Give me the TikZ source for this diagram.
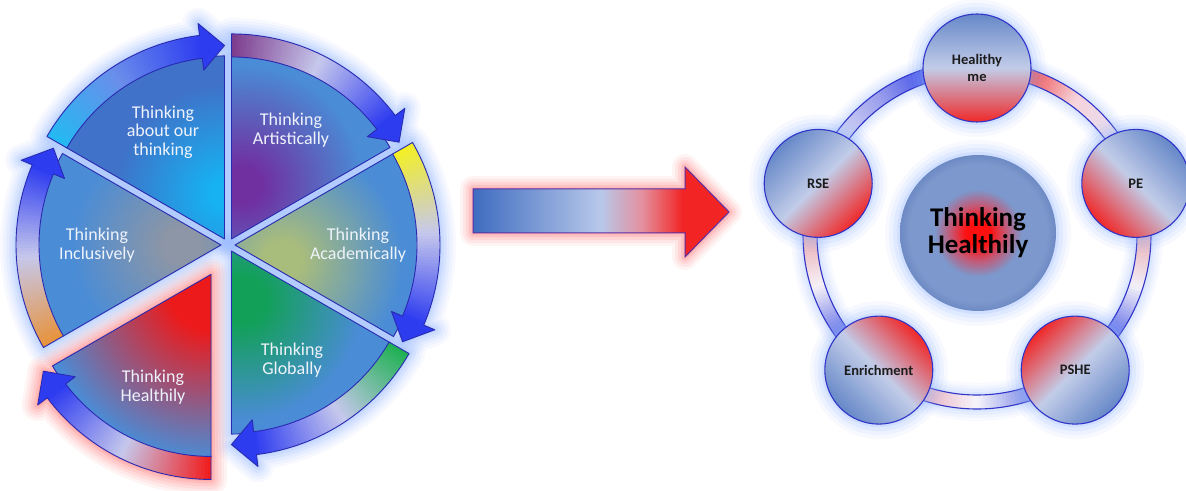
\documentclass[tikz,border=0pt]{standalone}
\usepackage{fontspec}
\setmainfont{Carlito}
\usetikzlibrary{calc}

\definecolor{sectblue}{HTML}{4A8CD6}
\definecolor{aboutblue}{HTML}{3F72C8}
\definecolor{headblue}{HTML}{2E3CF0}
\definecolor{outl}{HTML}{2A2AB0}
\definecolor{glowb}{HTML}{94B8FF}
\definecolor{glowr}{HTML}{FF7070}
\definecolor{txtw}{HTML}{EEF3FB}
\definecolor{txtd}{HTML}{1C1C1C}
\definecolor{accAbout}{HTML}{16B2F2}
\definecolor{accArt}{HTML}{7030A0}
\definecolor{accAcad}{HTML}{A8BC7C}
\definecolor{accGlob}{HTML}{12A058}
\definecolor{accHeal}{HTML}{EC1A1A}
\definecolor{accIncl}{HTML}{8C96A6}
\definecolor{tAbout}{HTML}{22BAF2}
\definecolor{tArt}{HTML}{7C3A8C}
\definecolor{tAcad}{HTML}{F4F020}
\definecolor{tGlob}{HTML}{1CB050}
\definecolor{tHeal}{HTML}{F21A1A}
\definecolor{tIncl}{HTML}{E8923A}
\definecolor{mAbout}{HTML}{6A8EEA}
\definecolor{mLight}{HTML}{C6C8EC}
% middle arrow
\definecolor{maL}{HTML}{3E6CC0}
\definecolor{maM}{HTML}{B8C8EA}
\definecolor{maP}{HTML}{E4909E}
\definecolor{maR}{HTML}{F22424}
\definecolor{maOut}{HTML}{5A30A8}
% right side
\definecolor{cb}{HTML}{6688C8}
\definecolor{cl}{HTML}{C2CCE8}
\definecolor{cr}{HTML}{F02828}
\definecolor{cline}{HTML}{3034C8}
\definecolor{cred}{HTML}{FF1010}
\definecolor{cpur}{HTML}{C25A78}
\definecolor{cmid}{HTML}{7C98CC}
\definecolor{cedge}{HTML}{6E8AC4}
% band colours
\definecolor{bA0}{HTML}{E2DEF4}\definecolor{bA1}{HTML}{F6D4DC}\definecolor{bA2}{HTML}{EC3434}
\definecolor{bB0}{HTML}{3040E8}\definecolor{bB1}{HTML}{9CA0EC}\definecolor{bB2}{HTML}{E0E2F6}
\definecolor{bC0}{HTML}{E89AA2}\definecolor{bC1}{HTML}{F6F2F8}\definecolor{bC2}{HTML}{4656E4}
\definecolor{bD0}{HTML}{E4A2B4}\definecolor{bD1}{HTML}{F6F4FA}\definecolor{bD2}{HTML}{6878E4}
\definecolor{bE0}{HTML}{3C4CE4}\definecolor{bE1}{HTML}{F2F0F8}\definecolor{bE2}{HTML}{E8A0A8}

\pgfdeclareradialshading{shAbout}{\pgfpoint{0bp}{0bp}}{color(0bp)=(accAbout); color(3bp)=(accAbout); color(25bp)=(aboutblue); color(50bp)=(aboutblue)}
\pgfdeclareradialshading{shArt}{\pgfpoint{0bp}{0bp}}{color(0bp)=(accArt); color(4bp)=(accArt); color(25bp)=(sectblue); color(50bp)=(sectblue)}
\pgfdeclareradialshading{shAcad}{\pgfpoint{0bp}{0bp}}{color(0bp)=(accAcad); color(4bp)=(accAcad); color(25bp)=(sectblue); color(50bp)=(sectblue)}
\pgfdeclareradialshading{shGlob}{\pgfpoint{0bp}{0bp}}{color(0bp)=(accGlob); color(5bp)=(accGlob); color(25bp)=(sectblue); color(50bp)=(sectblue)}
\pgfdeclareradialshading{shHeal}{\pgfpoint{0bp}{0bp}}{color(0bp)=(accHeal); color(6bp)=(accHeal); color(25bp)=(sectblue); color(50bp)=(sectblue)}
\pgfdeclareradialshading{shIncl}{\pgfpoint{0bp}{0bp}}{color(0bp)=(accIncl); color(4bp)=(accIncl); color(25bp)=(sectblue); color(50bp)=(sectblue)}
\pgfdeclareradialshading{centsh}{\pgfpoint{0bp}{0bp}}{color(0bp)=(cred); color(4bp)=(cred); color(9bp)=(cpur); color(14bp)=(cmid); color(22bp)=(cmid); color(25bp)=(cedge); color(50bp)=(cedge)}
\pgfdeclarehorizontalshading{midarrow}{100bp}{color(0bp)=(maL); color(25bp)=(maL); color(50bp)=(maM); color(58bp)=(maP); color(66bp)=(maR); color(75bp)=(maR); color(100bp)=(maR)}

\tikzset{
  wheeltxt/.style={text=txtw, align=center, font=\fontsize{18}{18.5}\selectfont, inner sep=0pt},
  smallc/.style={circle, minimum size=108, inner sep=0pt, draw=cline, line width=1.1,
    align=center, font=\bfseries\fontsize{14.5}{16.5}\selectfont, text=txtd,
    top color=cb, bottom color=cr, middle color=cl},
  bigc/.style={circle, minimum size=156, inner sep=0pt, shade, shading=centsh,
    align=center, font=\bfseries\fontsize{27}{27}\selectfont, text=black},
}

\begin{document}
\begin{tikzpicture}[x=1pt,y=1pt]
\useasboundingbox (0,0) rectangle (1186,490);
\fill[white] (0,0) rectangle (1186,490);

\def\ri{182}\def\rp{183}\def\ro{205}\def\rmid{193.5}\def\bi{170}\def\bo{217}\def\hlen{7}
% tail/head/offset/shading/acc angle/acc dist/acc radius/tail col/mid col/glow col/base col
\def\wheeldata{150/90/7/shAbout/90/45/110/tAbout/mAbout/glowb/aboutblue,
  90/30/7/shArt/78/55/120/tArt/mLight/glowb/sectblue,
  30/-30/7/shAcad/-18/50/120/tAcad/mLight/glowb/sectblue,
  -30/-90/7/shGlob/-78/50/120/tGlob/mLight/glowb/sectblue,
  -90/-150/34/shHeal/-95/15/170/tHeal/mLight/glowr/sectblue,
  -150/-210/7/shIncl/180/40/110/tIncl/mLight/glowb/sectblue}

% ---------- pass 1: glows
\foreach \ta/\ha/\dd/\sh/\aca/\acd/\acr/\tc/\mc/\gc/\base in \wheeldata {
  \pgfmathsetmacro{\bis}{(\ta+\ha)/2}
  \pgfmathsetmacro{\tx}{228+\dd*cos(\bis)}
  \pgfmathsetmacro{\ty}{245+\dd*sin(\bis)}
  \pgfmathsetmacro{\hs}{\ha+\hlen}
  \begin{scope}[shift={(\tx,\ty)}]
    \foreach \w/\o in {32/0.07,26/0.09,20/0.11,14/0.14,8/0.18,3/0.22}{
      \draw[\gc, line width=\w, opacity=\o, line join=round]
        (0,0) -- (\ha:\ri) arc[start angle=\ha,end angle=\ta,radius=\ri] -- cycle
        (\ta:\ro) arc[start angle=\ta,end angle=\hs,radius=\ro] -- (\hs:\bo) -- (\ha:\rmid)
        -- (\hs:\bi) -- (\hs:\ri) arc[start angle=\hs,end angle=\ta,radius=\ri] -- cycle;
    }
  \end{scope}
}

% ---------- pass 2: sectors and strips
\foreach \ta/\ha/\dd/\sh/\aca/\acd/\acr/\tc/\mc/\gc/\base in \wheeldata {
  \pgfmathsetmacro{\bis}{(\ta+\ha)/2}
  \pgfmathsetmacro{\tx}{228+\dd*cos(\bis)}
  \pgfmathsetmacro{\ty}{245+\dd*sin(\bis)}
  \pgfmathsetmacro{\hs}{\ha+\hlen}
  \begin{scope}[shift={(\tx,\ty)}]
    \fill[\base] (0,0) -- (\ha:\rp) arc[start angle=\ha,end angle=\ta,radius=\rp] -- cycle;
    \begin{scope}
      \clip (0,0) -- (\ha:\rp) arc[start angle=\ha,end angle=\ta,radius=\rp] -- cycle;
      \shade[shading=\sh] (\aca:\acd) circle[radius=\acr];
    \end{scope}
    \draw[outl, line width=0.9, line join=round] (0,0) -- (\ha:\rp) arc[start angle=\ha,end angle=\ta,radius=\rp] -- cycle;
    % gradient strip
    \foreach \i in {0,...,59} {
      \pgfmathsetmacro{\sa}{\ta+(\hs-\ta)*\i/60}
      \pgfmathsetmacro{\ea}{\ta+(\hs-\ta)*(\i+1.6)/60}
      \pgfmathsetmacro{\tpos}{(\i+0.5)/60}
      \ifdim\tpos pt<0.5pt
        \pgfmathtruncatemacro{\pc}{100-200*\tpos}
        \colorlet{segc}{\tc!\pc!\mc}
      \else
        \pgfmathtruncatemacro{\pc}{200-200*\tpos}
        \colorlet{segc}{\mc!\pc!headblue}
      \fi
      \fill[segc] (\sa:\ri) -- (\sa:\ro) arc[start angle=\sa,end angle=\ea,radius=\ro]
        -- (\ea:\ri) arc[start angle=\ea,end angle=\sa,radius=\ri] -- cycle;
    }
    \fill[headblue] (\hs:\bo) -- (\ha:\rmid) -- (\hs:\bi) -- cycle;
    \draw[outl, line width=0.9, line join=round]
      (\ta:\ro) arc[start angle=\ta,end angle=\hs,radius=\ro] -- (\hs:\bo) -- (\ha:\rmid)
      -- (\hs:\bi) -- (\hs:\ri) arc[start angle=\hs,end angle=\ta,radius=\ri] -- cycle;
  \end{scope}
}

% ---------- wheel texts
\node[wheeltxt] (about) at (163,358) {Thinking\\about our\\thinking};
\node[wheeltxt] (artist) at (291,360) {Thinking\\Artistically};
\node[wheeltxt] (acad) at (358,245) {Thinking\\Academically};
\node[wheeltxt] (glob) at (292,130) {Thinking\\Globally};
\node[wheeltxt] (heal) at (153,103) {Thinking\\Healthily};
\node[wheeltxt] (incl) at (97,245) {Thinking\\Inclusively};

% ---------- middle arrow
\foreach \w/\o in {26/0.07,20/0.1,14/0.14,8/0.18,3/0.22}{
  \draw[glowr, line width=\w, opacity=\o, line join=round] (473,257) -- (685,257) -- (685,233) -- (729,278) -- (685,323) -- (685,301) -- (473,301) -- cycle;
}
\shade[shading=midarrow, draw=maOut, line width=1] (473,257) -- (685,257) -- (685,233) -- (729,278) -- (685,323) -- (685,301) -- (473,301) -- cycle;

% ---------- right: ring band
\coordinate (P0) at (977,255);
\foreach \w/\o in {38/0.06,32/0.08,26/0.1,20/0.13}{
  \draw[glowb, line width=\w, opacity=\o] (P0) circle[radius=167];
}
\begin{scope}[shift={(977,255)}]
\foreach \st/\ca/\cbb/\cc in {18/bA0/bA1/bA2, 90/bB0/bB1/bB2, 162/bC0/bC1/bC2, 234/bD0/bD1/bD2, 306/bE0/bE1/bE2} {
  \foreach \i in {0,...,39} {
    \pgfmathsetmacro{\sa}{\st+14+44*\i/40}
    \pgfmathsetmacro{\ea}{\st+14+44*(\i+1.5)/40}
    \pgfmathsetmacro{\tpos}{(\i+0.5)/40}
    \ifdim\tpos pt<0.5pt
      \pgfmathtruncatemacro{\pc}{100-200*\tpos}
      \colorlet{segc}{\ca!\pc!\cbb}
    \else
      \pgfmathtruncatemacro{\pc}{200-200*\tpos}
      \colorlet{segc}{\cbb!\pc!\cc}
    \fi
    \fill[segc] (\sa:160) -- (\sa:174) arc[start angle=\sa,end angle=\ea,radius=174]
      -- (\ea:160) arc[start angle=\ea,end angle=\sa,radius=160] -- cycle;
  }
}
\end{scope}
\draw[cline, line width=1.1] (P0) circle[radius=160] (P0) circle[radius=174];

% ---------- circle glows
\foreach \cx/\cy/\rr in {977/422/54, 1135.8/306.6/54, 1075.2/119.9/54, 878.8/119.9/54, 818.2/306.6/54, 978/257/78}{
  \foreach \k/\o in {15/0.07,11/0.1,7/0.14,3/0.2}{
    \fill[glowb, opacity=\o] (\cx,\cy) circle[radius=\rr+\k];
  }
}

% ---------- circles
\node[bigc] (center) at (978,257) {Thinking\\Healthily};
\node[smallc, shading angle=0] (hme) at (977,422) {Healithy\\me};
\node[smallc, shading angle=-45] (pe) at (1135.8,306.6) {PE};
\node[smallc, shading angle=-135] (pshe) at (1075.2,119.9) {PSHE};
\node[smallc, shading angle=135] (enr) at (878.8,119.9) {Enrichment};
\node[smallc, shading angle=45] (rse) at (818.2,306.6) {RSE};
\end{tikzpicture}
\end{document}
